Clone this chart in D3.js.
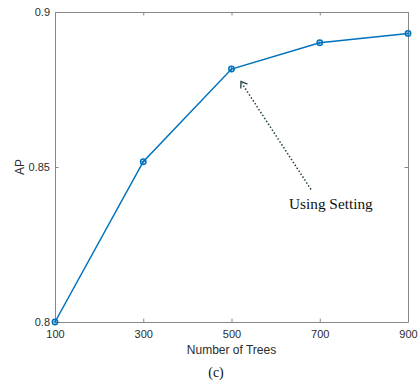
<!DOCTYPE html>
<html>
<head>
<meta charset="utf-8">
<script src="https://cdn.jsdelivr.net/npm/d3@7/dist/d3.min.js"></script>
<style>
  html, body { margin: 0; padding: 0; background: #fff; }
  svg { display: block; }
</style>
</head>
<body>
<svg id="chart" width="418" height="383"></svg>
<script>
// Average precision versus forest size
const trees = [100, 300, 500, 700, 900];
const ap = [0.800, 0.8517, 0.8816, 0.8901, 0.8931];
const xTicks = [100, 300, 500, 700, 900];
const yTicks = [0.8, 0.85, 0.9];
const yTickLabels = ["0.8", "0.85", "0.9"];

const svg = d3.select("#chart");
const m = { left: 55, right: 408, top: 12, bottom: 322 };

const x = d3.scaleLinear().domain([100, 900]).range([m.left, m.right]);
const y = d3.scaleLinear().domain([0.8, 0.9]).range([m.bottom, m.top]);

const axisColor = "#888";
const textColor = "#2b2b2b";
const sans = "'Liberation Sans', Arial, sans-serif";
const serif = "'Liberation Serif', 'Times New Roman', serif";

// Bottom and left axes with inward ticks
const gx = svg.append("g").attr("transform", `translate(0,${m.bottom})`)
  .call(d3.axisBottom(x).tickValues(xTicks).tickSizeInner(-3.5).tickSizeOuter(0).tickPadding(8).tickFormat(d3.format("d")));
const gy = svg.append("g").attr("transform", `translate(${m.left},0)`)
  .call(d3.axisLeft(y).tickValues(yTicks).tickSizeInner(-3.5).tickSizeOuter(0).tickPadding(5)
    .tickFormat((d, i) => yTickLabels[i]));
// Top and right box edges with mirrored ticks
const gt = svg.append("g").attr("transform", `translate(0,${m.top})`)
  .call(d3.axisTop(x).tickValues(xTicks).tickSizeInner(-3.5).tickSizeOuter(0).tickFormat(""));
const gr = svg.append("g").attr("transform", `translate(${m.right},0)`)
  .call(d3.axisRight(y).tickValues(yTicks).tickSizeInner(-3.5).tickSizeOuter(0).tickFormat(""));

[gx, gy, gt, gr].forEach(g => {
  g.select(".domain").attr("stroke", axisColor).attr("stroke-width", 1);
  g.selectAll(".tick line").attr("stroke", axisColor);
  g.selectAll(".tick text").attr("fill", textColor).style("font-family", sans).style("font-size", "11px");
});

// Data line
svg.append("path")
  .datum(trees.map((t, i) => [t, ap[i]]))
  .attr("fill", "none")
  .attr("stroke", "#0072BD")
  .attr("stroke-width", 1.5)
  .attr("d", d3.line().x(d => x(d[0])).y(d => y(d[1])));

// Markers
const mk = svg.append("g");
trees.forEach((t, i) => {
  mk.append("circle").attr("cx", x(t)).attr("cy", y(ap[i])).attr("r", 2.7)
    .attr("fill", "none").attr("stroke", "#0072BD").attr("stroke-width", 1.5);
  mk.append("path")
    .attr("d", `M${x(t) - 2},${y(ap[i])}h4M${x(t)},${y(ap[i]) - 2}v4`)
    .attr("stroke", "#0072BD").attr("stroke-width", 0.8);
});

// Annotation arrow pointing at the chosen setting
const tip = [241, 81.5], tail = [311, 189.5];
svg.append("line")
  .attr("x1", tail[0]).attr("y1", tail[1]).attr("x2", tip[0] + 1).attr("y2", tip[1] + 2)
  .attr("stroke", "#1f3f3f").attr("stroke-width", 1.5).attr("stroke-dasharray", "1.5,2");
const ang = Math.atan2(tail[1] - tip[1], tail[0] - tip[0]);
const hl = 7, ha = 0.6;
svg.append("path")
  .attr("d", `M${tip[0] + hl * Math.cos(ang - ha)},${tip[1] + hl * Math.sin(ang - ha)}L${tip[0]},${tip[1]}L${tip[0] + hl * Math.cos(ang + ha)},${tip[1] + hl * Math.sin(ang + ha)}`)
  .attr("fill", "none").attr("stroke", "#1f3f3f").attr("stroke-width", 1.3);

svg.append("text").attr("x", 289).attr("y", 209)
  .style("font-family", serif).style("font-size", "15.3px").attr("fill", "#111")
  .text("Using Setting");

// Axis titles and panel caption
svg.append("text").attr("x", (m.left + m.right) / 2).attr("y", 354).attr("text-anchor", "middle")
  .style("font-family", sans).style("font-size", "12px").attr("fill", textColor)
  .text("Number of Trees");
svg.append("text").attr("transform", `translate(24,${(m.top + m.bottom) / 2}) rotate(-90)`)
  .attr("text-anchor", "middle")
  .style("font-family", sans).style("font-size", "12px").attr("fill", textColor)
  .text("AP");
svg.append("text").attr("x", 216).attr("y", 377).attr("text-anchor", "middle")
  .style("font-family", serif).style("font-size", "14px").attr("fill", "#111")
  .text("(c)");
</script>
</body>
</html>
